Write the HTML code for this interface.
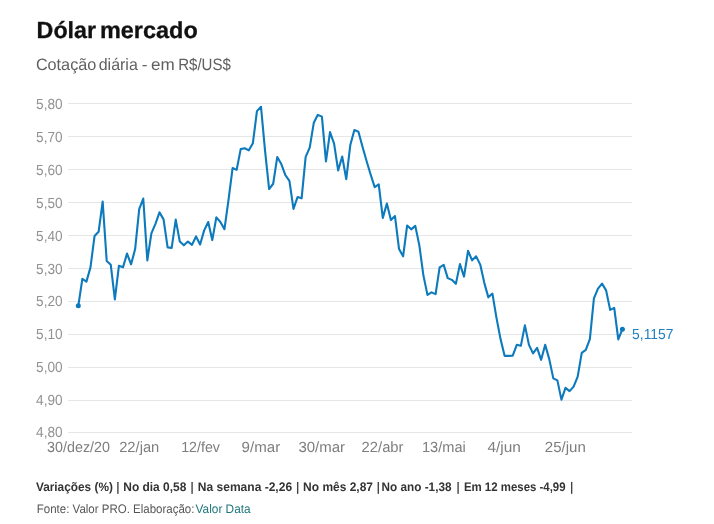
<!DOCTYPE html>
<html lang="pt-BR"><head><meta charset="utf-8"><title>Dólar mercado</title>
<style>
html,body{margin:0;padding:0;background:#fff;}
body{width:714px;height:524px;overflow:hidden;font-family:"Liberation Sans",sans-serif;}
svg{display:block;will-change:transform;}
text{font-family:"Liberation Sans",sans-serif;text-rendering:geometricPrecision;}
</style></head><body>
<svg width="714" height="524" viewBox="0 0 714 524">
<rect width="714" height="524" fill="#fff"/>
<g font-size="23.3" font-weight="bold" fill="#111" stroke="#111" stroke-width="0.3">
<text x="36.6" y="38.1" textLength="59.5" lengthAdjust="spacingAndGlyphs">Dólar</text>
<text x="99.9" y="38.1" textLength="97.9" lengthAdjust="spacingAndGlyphs">mercado</text>
</g>
<g font-size="16.5" fill="#606060">
<text x="35.9" y="69.7" textLength="60.4" lengthAdjust="spacingAndGlyphs">Cotação</text>
<text x="98.7" y="69.7" textLength="39.1" lengthAdjust="spacingAndGlyphs">diária</text>
<text x="141.7" y="69.7" textLength="5.7" lengthAdjust="spacingAndGlyphs">-</text>
<text x="150.9" y="69.7" textLength="23.7" lengthAdjust="spacingAndGlyphs">em</text>
<text x="178.2" y="69.7" textLength="52.7" lengthAdjust="spacingAndGlyphs">R$/US$</text>
</g>
<g stroke="#e6e6e6" stroke-width="1" shape-rendering="crispEdges">
<line x1="68" x2="632" y1="103.5" y2="103.5"/>
<line x1="68" x2="632" y1="136.5" y2="136.5"/>
<line x1="68" x2="632" y1="169.5" y2="169.5"/>
<line x1="68" x2="632" y1="202.5" y2="202.5"/>
<line x1="68" x2="632" y1="235.5" y2="235.5"/>
<line x1="68" x2="632" y1="268.5" y2="268.5"/>
<line x1="68" x2="632" y1="301.5" y2="301.5"/>
<line x1="68" x2="632" y1="334.5" y2="334.5"/>
<line x1="68" x2="632" y1="367.5" y2="367.5"/>
<line x1="68" x2="632" y1="400.5" y2="400.5"/>
<line x1="68" x2="632" y1="432.5" y2="432.5"/>
</g>
<g font-size="14.6" fill="#929292">
<text x="36.1" y="108.8" textLength="26.5" lengthAdjust="spacingAndGlyphs">5,80</text>
<text x="36.1" y="141.8" textLength="26.5" lengthAdjust="spacingAndGlyphs">5,70</text>
<text x="36.1" y="174.8" textLength="26.5" lengthAdjust="spacingAndGlyphs">5,60</text>
<text x="36.1" y="207.8" textLength="26.5" lengthAdjust="spacingAndGlyphs">5,50</text>
<text x="36.1" y="240.8" textLength="26.5" lengthAdjust="spacingAndGlyphs">5,40</text>
<text x="36.1" y="273.8" textLength="26.5" lengthAdjust="spacingAndGlyphs">5,30</text>
<text x="36.1" y="306.3" textLength="26.5" lengthAdjust="spacingAndGlyphs">5,20</text>
<text x="36.1" y="338.9" textLength="26.5" lengthAdjust="spacingAndGlyphs">5,10</text>
<text x="36.1" y="371.9" textLength="26.5" lengthAdjust="spacingAndGlyphs">5,00</text>
<text x="36.1" y="404.9" textLength="26.5" lengthAdjust="spacingAndGlyphs">4,90</text>
<text x="36.1" y="436.9" textLength="26.5" lengthAdjust="spacingAndGlyphs">4,80</text>
</g>
<g font-size="14.7" fill="#7e7e7e">
<text x="47.0" y="451.7" textLength="63.0" lengthAdjust="spacingAndGlyphs">30/dez/20</text>
<text x="119.2" y="451.7" textLength="40.1" lengthAdjust="spacingAndGlyphs">22/jan</text>
<text x="181.2" y="451.7" textLength="38.8" lengthAdjust="spacingAndGlyphs">12/fev</text>
<text x="241.6" y="451.7" textLength="38.6" lengthAdjust="spacingAndGlyphs">9/mar</text>
<text x="298.4" y="451.7" textLength="46.7" lengthAdjust="spacingAndGlyphs">30/mar</text>
<text x="361.6" y="451.7" textLength="41.9" lengthAdjust="spacingAndGlyphs">22/abr</text>
<text x="422.0" y="451.7" textLength="43.8" lengthAdjust="spacingAndGlyphs">13/mai</text>
<text x="487.4" y="451.7" textLength="33.4" lengthAdjust="spacingAndGlyphs">4/jun</text>
<text x="544.8" y="451.7" textLength="41.0" lengthAdjust="spacingAndGlyphs">25/jun</text>
</g>
<g transform="translate(0.3,0.35)">
<polyline fill="none" stroke="#0c7abc" stroke-width="2.1" stroke-linejoin="round" stroke-linecap="round" points="78.00,305.50 82.06,278.50 86.12,281.25 90.18,267.00 94.24,235.75 98.30,231.50 102.36,201.25 106.42,260.75 110.48,264.50 114.54,299.00 118.60,265.50 122.66,267.00 126.72,253.25 130.78,264.00 134.84,248.75 138.90,208.75 142.96,198.25 147.02,260.00 151.08,233.00 155.14,223.50 159.20,212.00 163.26,219.00 167.32,247.00 171.38,247.50 175.44,219.25 179.50,241.25 183.56,245.00 187.62,241.25 191.68,244.50 195.74,236.10 199.80,244.10 203.86,230.00 207.92,221.70 211.98,239.75 216.04,217.00 220.10,221.60 224.16,228.80 228.22,199.50 232.28,167.70 236.34,169.50 240.40,148.80 244.46,147.90 248.52,150.00 252.58,142.80 256.64,110.80 260.70,106.40 264.76,150.50 268.82,188.70 272.88,183.40 276.94,156.70 281.00,163.70 285.06,174.80 289.12,180.60 293.18,208.60 297.24,196.70 301.30,198.00 305.36,156.60 309.42,147.20 313.48,122.50 317.54,114.50 321.60,116.25 325.66,161.00 329.72,131.75 333.78,143.20 337.84,170.00 341.90,156.20 345.96,178.80 350.02,144.60 354.08,129.70 358.14,131.30 362.20,146.30 366.26,160.60 370.32,174.20 374.38,186.80 378.44,184.00 382.50,217.50 386.56,203.25 390.62,219.75 394.68,215.75 398.74,248.75 402.80,256.00 406.86,225.10 410.92,229.00 414.98,225.50 419.04,245.00 423.10,275.00 427.16,294.50 431.22,292.00 435.28,293.75 439.34,267.00 443.40,264.50 447.46,277.75 451.52,279.50 455.58,283.50 459.64,263.75 463.70,276.25 467.76,250.50 471.82,260.00 475.88,256.00 479.94,264.25 484.00,282.50 488.06,297.00 492.12,293.25 496.18,317.50 500.24,338.75 504.30,355.50 508.36,355.50 512.42,355.25 516.48,344.50 520.54,345.50 524.60,325.00 528.66,344.50 532.72,353.00 536.78,347.50 540.84,359.50 544.90,344.50 548.96,358.75 553.02,378.00 557.08,380.00 561.14,399.25 565.20,387.50 569.26,390.75 573.32,386.25 577.38,376.25 581.44,352.50 585.50,349.50 589.56,338.75 593.62,298.00 597.68,288.25 601.74,283.25 605.80,290.00 609.86,309.50 613.92,307.50 617.98,339.00 622.04,329.00"/>
<circle cx="78" cy="305.5" r="2.5" fill="#0c7abc"/>
<circle cx="622.1" cy="329" r="2.5" fill="#0c7abc"/>
</g>
<text x="632.1" y="338.6" font-size="14.5" fill="#1c80c2" textLength="41.4" lengthAdjust="spacingAndGlyphs">5,1157</text>
<g font-size="12.4" font-weight="bold" fill="#333">
<text x="35.9" y="490.8" textLength="77.0" lengthAdjust="spacingAndGlyphs">Variações (%)</text>
<text x="123.3" y="490.8" textLength="63.0" lengthAdjust="spacingAndGlyphs">No dia 0,58</text>
<text x="197.8" y="490.8" textLength="94.3" lengthAdjust="spacingAndGlyphs">Na semana -2,26</text>
<text x="303.1" y="490.8" textLength="69.9" lengthAdjust="spacingAndGlyphs">No mês 2,87</text>
<text x="381.6" y="490.8" textLength="69.9" lengthAdjust="spacingAndGlyphs">No ano -1,38</text>
<text x="463.9" y="490.8" textLength="101.7" lengthAdjust="spacingAndGlyphs">Em 12 meses -4,99</text>
<text x="117.8" y="490.8" text-anchor="middle" font-weight="normal" stroke="#333" stroke-width="0.25">|</text>
<text x="192.0" y="490.8" text-anchor="middle" font-weight="normal" stroke="#333" stroke-width="0.25">|</text>
<text x="297.5" y="490.8" text-anchor="middle" font-weight="normal" stroke="#333" stroke-width="0.25">|</text>
<text x="378.4" y="490.8" text-anchor="middle" font-weight="normal" stroke="#333" stroke-width="0.25">|</text>
<text x="458.0" y="490.8" text-anchor="middle" font-weight="normal" stroke="#333" stroke-width="0.25">|</text>
<text x="571.5" y="490.8" text-anchor="middle" font-weight="normal" stroke="#333" stroke-width="0.25">|</text>
</g>
<text x="36.8" y="513" font-size="12.4" fill="#555" textLength="157.6" lengthAdjust="spacingAndGlyphs">Fonte: Valor PRO. Elaboração:</text>
<text x="195.6" y="513" font-size="12.4" fill="#1f767b" textLength="55" lengthAdjust="spacingAndGlyphs">Valor Data</text>
</svg>
</body></html>
